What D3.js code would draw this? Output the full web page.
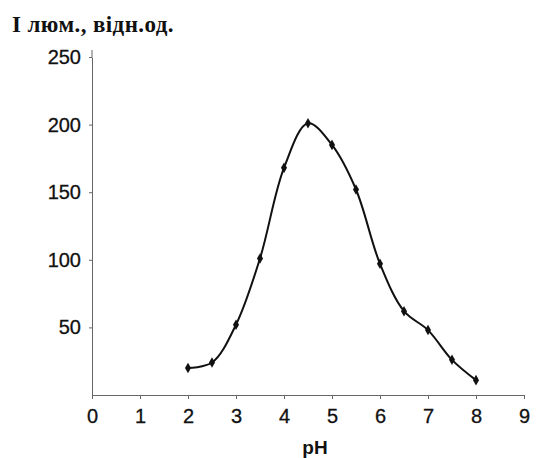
<!DOCTYPE html>
<html>
<head>
<meta charset="utf-8">
<script src="https://cdn.jsdelivr.net/npm/d3@7"></script>
<style>
  body { margin: 0; background: #fff; }
</style>
</head>
<body>
<div id="chart"></div>
<script>
(function () {

  // pH values and luminescence intensity
  const ph = [2, 2.5, 3, 3.5, 4, 4.5, 5, 5.5, 6, 6.5, 7, 7.5, 8]
  const intensity = [20, 24, 52, 101, 168, 201, 185, 152, 97, 62, 48, 26, 11]

  const xTicks = [0, 1, 2, 3, 4, 5, 6, 7, 8, 9]
  const yTicks = [50, 100, 150, 200, 250]

  const yTitle = 'I люм., відн.од.'
  const xTitle = 'pH'

  const width = 538
  const height = 458

  const svg = d3.select('#chart').append('svg')
      .attr('width', width)
      .attr('height', height)

  const xPositionScale = d3.scaleLinear()
    .domain([0, 9])
    .range([92, 524])

  const yPositionScale = d3.scaleLinear()
    .domain([0, 250])
    .range([395, 57])

  const points = ph.map((d, i) => ({ ph: d, value: intensity[i] }))

  // axes
  const xAxis = d3.axisBottom(xPositionScale)
    .tickValues(xTicks)
    .tickSizeInner(4)
    .tickSizeOuter(0)
    .tickPadding(10)
  svg.append('g')
    .attr('class', 'axis x-axis')
    .attr('transform', 'translate(0,' + yPositionScale(0) + ')')
    .call(xAxis)

  const yAxis = d3.axisLeft(yPositionScale)
    .tickValues(yTicks)
    .tickSizeInner(3)
    .tickSizeOuter(0)
    .tickPadding(8)
  svg.append('g')
    .attr('class', 'axis y-axis')
    .attr('transform', 'translate(' + xPositionScale(0) + ',0)')
    .call(yAxis)

  // axis line runs a little past 250 in the original
  svg.append('line')
    .attr('x1', xPositionScale(0))
    .attr('x2', xPositionScale(0))
    .attr('y1', yPositionScale(250))
    .attr('y2', yPositionScale(250) - 7)
    .attr('stroke', '#666')

  svg.selectAll('.axis path, .axis line')
    .attr('stroke', '#666')
  svg.selectAll('.axis text')
    .style('font-family', '"Liberation Sans", Arial, sans-serif')
    .style('font-size', '20px')
    .attr('fill', '#111')
    .attr('stroke', '#111')
    .attr('stroke-width', 0.3)

  // curve
  const line = d3.line()
    .x(d => xPositionScale(d.ph))
    .y(d => yPositionScale(d.value))
    .curve(d3.curveCatmullRom.alpha(0.5))

  svg.append('path')
    .datum(points)
    .attr('d', line)
    .attr('fill', 'none')
    .attr('stroke', '#111')
    .attr('stroke-width', 2)

  svg.selectAll('.dot')
    .data(points)
    .join('path')
    .attr('class', 'dot')
    .attr('d', d3.symbol().type(d3.symbolDiamond).size(32))
    .attr('transform', d => 'translate(' + xPositionScale(d.ph) + ',' + yPositionScale(d.value) + ')')
    .attr('fill', '#111')

  // titles
  svg.append('text')
    .attr('x', 12)
    .attr('y', 32)
    .style('font-family', '"Liberation Serif", "Times New Roman", serif')
    .style('font-weight', 'bold')
    .style('font-size', '23px')
    .style('letter-spacing', '0.4px')
    .attr('fill', '#111')
    .text(yTitle)

  svg.append('text')
    .attr('x', 315)
    .attr('y', 454)
    .attr('text-anchor', 'middle')
    .style('font-family', '"Liberation Sans", Arial, sans-serif')
    .style('font-weight', 'bold')
    .style('font-size', '19px')
    .attr('fill', '#111')
    .text(xTitle)

})();
</script>
</body>
</html>
